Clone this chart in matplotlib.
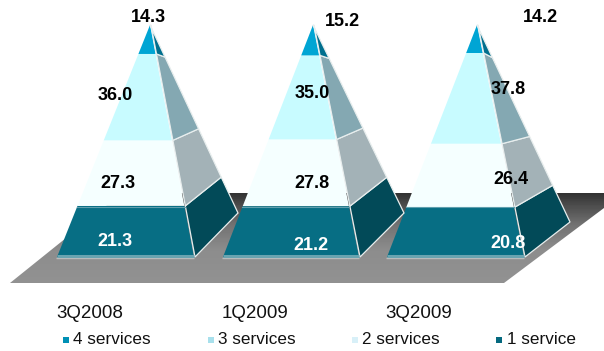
import numpy as np
import matplotlib
matplotlib.use('Agg')
import matplotlib.pyplot as plt
from matplotlib.patches import Polygon

plt.rcParams['font.family'] = ['Liberation Sans', 'DejaVu Sans']

# Data, bottom to top
quarters = ['3Q2008', '1Q2009', '3Q2009']
one_service = [21.3, 21.2, 20.8]
two_services = [27.3, 27.8, 26.4]
three_services = [36.0, 35.0, 37.8]
four_services = [14.3, 15.2, 14.2]
legend_names = ['4 services', '3 services', '2 services', '1 service']

# Pyramid layout in pixels
base_px = 257
px_per_unit = 2.4
apex_px = 25
apex_x = [150, 313, 477]
base_left = [57, 223, 387]
base_right = [194, 359, 524]
back_x = [238, 404, 570]
back_y = [213, 213, 222]
quarter_x = [90, 255, 419]

front_colors = ['#076e84', '#f5ffff', '#c8fbff', '#00a5d4']
side_colors = ['#024a58', '#a3b2b7', '#84a8b2', '#006f8e']
legend_colors = ['#0090b5', '#a8e0ec', '#d8f0f8', '#05697f']


def py(px):
    # pixel row -> value units above the base
    return (base_px - px) / px_per_unit


tip = py(apex_px)

fig = plt.figure(figsize=(6.04, 3.51), dpi=100)
ax = fig.add_axes([0, 0, 1, 1])
ax.set_xlim(0, 604)
ax.set_ylim(py(351), py(0))
ax.axis('off')

# Floor with a dark to grey gradient
floor = Polygon([(10, py(283)), (504, py(283)), (604, py(208)), (604, py(193)), (122, py(193))],
                closed=True, transform=ax.transData, facecolor='none', edgecolor='none')
ax.add_patch(floor)
grad = np.interp(np.linspace(193, 283, 90), [193, 205, 225, 250, 283], [0.2, 0.3, 0.45, 0.55, 0.57])
img = ax.imshow(grad.reshape(-1, 1), cmap='gray', vmin=0, vmax=1, aspect='auto',
                extent=[0, 604, py(283), py(193)], zorder=1)
img.set_clip_path(floor)
ax.set_xlim(0, 604)
ax.set_ylim(py(351), py(0))

series = [one_service, two_services, three_services, four_services]
for i in range(len(quarters)):
    bottom = 0
    for s, vals in enumerate(series):
        top = min(bottom + vals[i], tip)
        f0 = 1 - bottom / tip
        f1 = 1 - top / tip
        # the back edge is foreshortened, so its joints sit a bit lower
        b0 = f0 ** 0.85
        b1 = f1 ** 0.85
        a = apex_x[i]
        # front face
        ax.add_patch(Polygon([(a + (base_left[i] - a) * f0, bottom),
                              (a + (base_right[i] - a) * f0, bottom),
                              (a + (base_right[i] - a) * f1, top),
                              (a + (base_left[i] - a) * f1, top)],
                             closed=True, facecolor=front_colors[s], edgecolor='none', zorder=3))
        # side face
        back_h = py(back_y[i])
        ax.add_patch(Polygon([(a + (base_right[i] - a) * f0 + 1, bottom),
                              (a + (back_x[i] - a) * b0, tip + (back_h - tip) * b0),
                              (a + (back_x[i] - a) * b1, tip + (back_h - tip) * b1),
                              (a + (base_right[i] - a) * f1 + 1, top)],
                             closed=True, facecolor=side_colors[s], edgecolor='#e8eeee',
                             linewidth=0.9, zorder=4))
        bottom += vals[i]
    # light strip along the base
    ax.plot([base_left[i], base_right[i]], [py(255.5), py(255.5)], color='#6aa4b0', lw=2.2,
            solid_capstyle='butt', zorder=5)
    ax.plot([base_left[i] - 1, base_right[i]], [py(257.5), py(257.5)], color='#bcbcbc', lw=1,
            solid_capstyle='butt', zorder=2)
    ax.plot([base_left[i] + (apex_x[i] - base_left[i]) * py(207) / tip,
             base_right[i] + (apex_x[i] - base_right[i]) * py(207) / tip],
            [py(207), py(207)], color='#5f9fae', lw=0.8, zorder=5)

# Value labels, placed by hand
label_x = [[115, 118, 115, 148], [311, 312, 312, 342], [508, 511, 508, 540]]
label_y = [[242, 183, 96, 17], [245, 183, 94, 21], [244, 180, 90, 17]]
for i in range(len(quarters)):
    for s, vals in enumerate(series):
        ax.text(label_x[i][s], py(label_y[i][s]), f'{vals[i]:.1f}', ha='center', va='center',
                fontsize=13, fontweight='bold', color='white' if s == 0 else 'black', zorder=6)

for x, q in zip(quarter_x, quarters):
    ax.text(x, py(313), q, ha='center', va='center', fontsize=13.5, color='#111111')

# Legend
marker_x = [65.5, 210.5, 355, 498.5]
text_x = [73, 218, 362, 507]
for mx, tx, name, col in zip(marker_x, text_x, legend_names, legend_colors):
    ax.plot([mx], [py(340)], 's', color=col, ms=5, mew=0)
    ax.text(tx, py(340), name, ha='left', va='center', fontsize=12.3, color='#111111')

plt.savefig('out.png', dpi=100)
